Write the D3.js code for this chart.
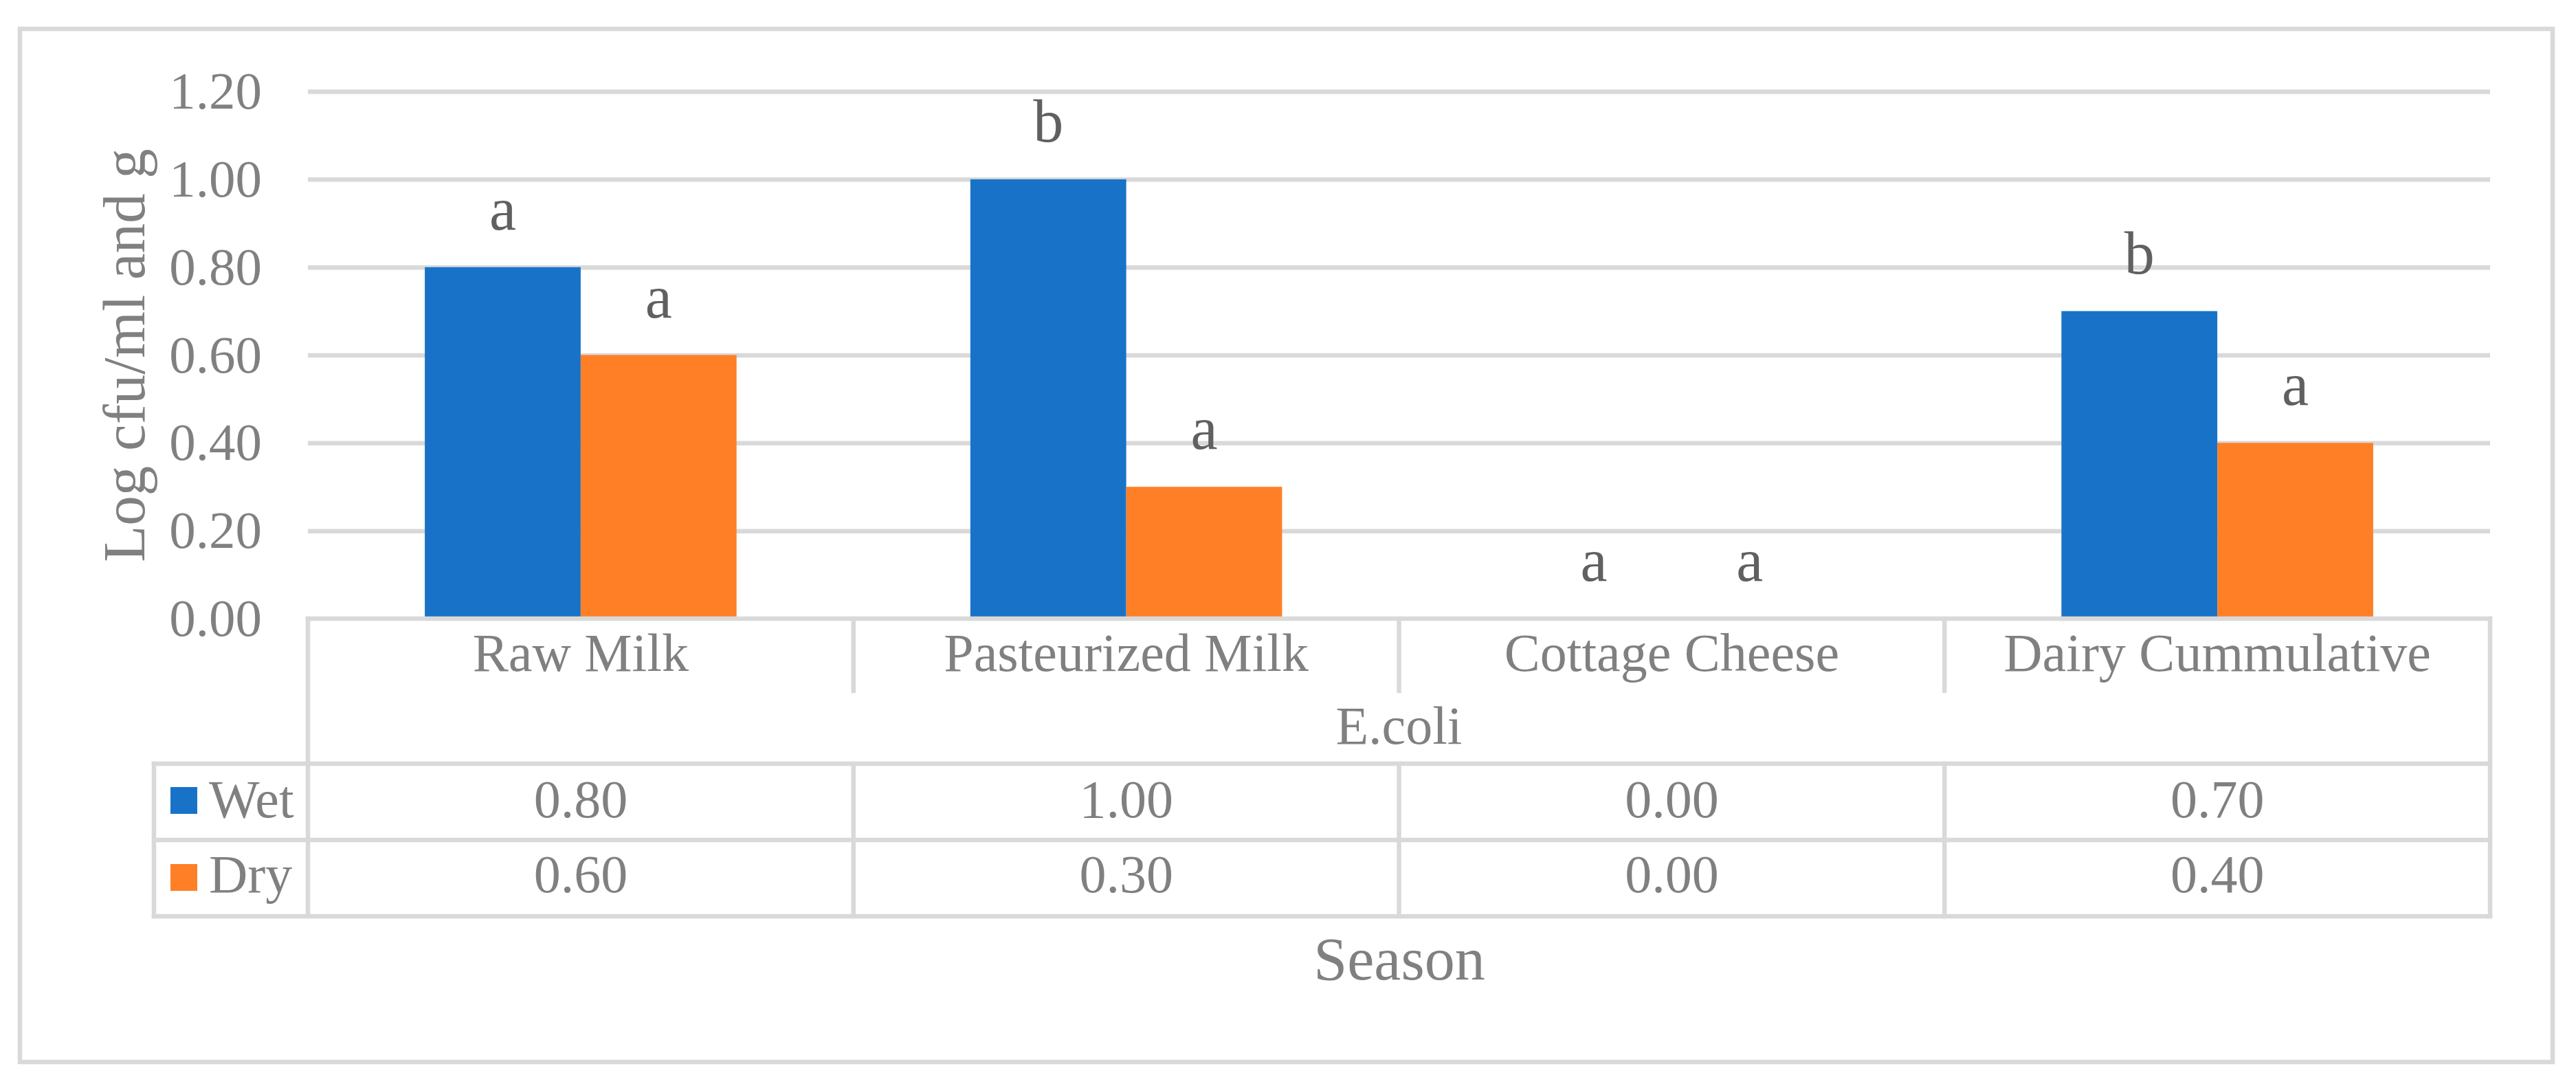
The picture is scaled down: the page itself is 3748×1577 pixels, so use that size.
<!DOCTYPE html>
<html>
<head>
<meta charset="utf-8">
<script src="https://cdn.jsdelivr.net/npm/d3@7"></script>
<style>
  body { margin: 0; background: #fff; }
  svg text { font-family: "Liberation Serif", "DejaVu Serif", "Times New Roman", Times, serif !important; }
</style>
</head>
<body>
<div id="chart"></div>
<script>
const categories = ["Raw Milk", "Pasteurized Milk", "Cottage Cheese", "Dairy Cummulative"];
const seriesNames = ["Wet", "Dry"];
const wetValues = [0.80, 1.00, 0.00, 0.70];
const dryValues = [0.60, 0.30, 0.00, 0.40];
const wetLetters = ["a", "b", "a", "b"];
const dryLetters = ["a", "a", "a", "a"];
const yTicks = [0, 0.2, 0.4, 0.6, 0.8, 1.0, 1.2];

const W = 3748, H = 1577;
const colors = { Wet: "#1873C8", Dry: "#FF7F27" };
const lineColor = "#d9d9d9";
const lw = 6.5;
const serif = "'Liberation Serif', 'DejaVu Serif', serif";

const svg = d3.select("#chart")
  .append("svg")
  .attr("width", W)
  .attr("height", H)
  .attr("font-family", serif);

// outer chart border
svg.append("rect")
  .attr("x", 29).attr("y", 42)
  .attr("width", 3714 - 29).attr("height", 1545 - 42)
  .attr("fill", "#fff")
  .attr("stroke", lineColor)
  .attr("stroke-width", lw);

const plot = { left: 448, right: 3623, top: 133, bottom: 900 };

const x = d3.scaleBand()
  .domain(categories)
  .range([plot.left, plot.right]);

const xSub = d3.scaleBand()
  .domain(seriesNames)
  .range([0, x.bandwidth()])
  .paddingInner(0)
  .paddingOuter(0.75);

const y = d3.scaleLinear()
  .domain([0, 1.2])
  .range([plot.bottom, plot.top]);

// y axis with gridlines
const yAxis = svg.append("g")
  .attr("transform", `translate(${plot.left},0)`)
  .call(d3.axisLeft(y)
    .tickValues(yTicks)
    .tickSize(-(plot.right - plot.left))
    .tickPadding(67)
    .tickFormat(d3.format(".2f")));

yAxis.attr("font-family", serif);
yAxis.select(".domain").remove();
yAxis.selectAll(".tick line")
  .attr("stroke", lineColor)
  .attr("stroke-width", lw)
  .filter(d => d === 0).remove();
yAxis.selectAll(".tick text")
  .attr("fill", "#808080")
  .attr("font-size", 77);

// bars
const rows = categories.map((c, i) => ({
  cat: c,
  vals: [
    { s: "Wet", v: wetValues[i], l: wetLetters[i] },
    { s: "Dry", v: dryValues[i], l: dryLetters[i] }
  ]
}));

const groups = svg.selectAll("g.cat")
  .data(rows)
  .enter()
  .append("g")
  .attr("class", "cat")
  .attr("transform", d => `translate(${x(d.cat)},0)`);

groups.selectAll("rect")
  .data(d => d.vals)
  .enter()
  .append("rect")
  .attr("x", d => xSub(d.s))
  .attr("y", d => y(d.v))
  .attr("width", xSub.bandwidth())
  .attr("height", d => y(0) - y(d.v))
  .attr("fill", d => colors[d.s]);

// significance letters
groups.selectAll("text.letter")
  .data(d => d.vals)
  .enter()
  .append("text")
  .attr("class", "letter")
  .attr("x", d => xSub(d.s) + xSub.bandwidth() / 2)
  .attr("y", d => y(d.v) - 55)
  .attr("text-anchor", "middle")
  .attr("font-size", 88)
  .attr("fill", "#606060")
  .text(d => d.l);

// data table lines
const tbl = { left: 224, catBottom: 1005, rowTop: 1111, rowMid: 1222, rowBottom: 1333 };
const lines = [
  [plot.left, y(0), plot.right, y(0)],
  [tbl.left, tbl.rowTop, plot.right, tbl.rowTop],
  [tbl.left, tbl.rowMid, plot.right, tbl.rowMid],
  [tbl.left, tbl.rowBottom, plot.right, tbl.rowBottom],
  [plot.left, y(0), plot.left, tbl.rowBottom],
  [plot.right, y(0), plot.right, tbl.rowBottom],
  [tbl.left, tbl.rowTop, tbl.left, tbl.rowBottom]
];
categories.slice(1).forEach(c => {
  lines.push([x(c), y(0), x(c), tbl.catBottom]);
  lines.push([x(c), tbl.rowTop, x(c), tbl.rowBottom]);
});

svg.append("g")
  .selectAll("line")
  .data(lines)
  .enter()
  .append("line")
  .attr("x1", d => d[0]).attr("y1", d => d[1])
  .attr("x2", d => d[2]).attr("y2", d => d[3])
  .attr("stroke", lineColor)
  .attr("stroke-width", lw)
  .attr("stroke-linecap", "square");

// category labels
svg.append("g")
  .selectAll("text")
  .data(categories)
  .enter()
  .append("text")
  .attr("x", d => x(d) + x.bandwidth() / 2)
  .attr("y", 976)
  .attr("text-anchor", "middle")
  .attr("font-size", 78)
  .attr("fill", "#808080")
  .text(d => d);

svg.append("text")
  .attr("x", (plot.left + plot.right) / 2)
  .attr("y", 1082)
  .attr("text-anchor", "middle")
  .attr("font-size", 78)
  .attr("fill", "#808080")
  .text("E.coli");

// table rows
const tableRows = [
  { s: "Wet", vals: wetValues, base: 1189, keyY: 1145 },
  { s: "Dry", vals: dryValues, base: 1298, keyY: 1257 }
];

tableRows.forEach(r => {
  svg.append("rect")
    .attr("x", 248).attr("y", r.keyY)
    .attr("width", 39).attr("height", 39)
    .attr("fill", colors[r.s]);
  svg.append("text")
    .attr("x", 304).attr("y", r.base)
    .attr("font-size", 78)
    .attr("fill", "#808080")
    .text(r.s);
  svg.append("g")
    .selectAll("text")
    .data(r.vals)
    .enter()
    .append("text")
    .attr("x", (d, i) => x(categories[i]) + x.bandwidth() / 2)
    .attr("y", r.base)
    .attr("text-anchor", "middle")
    .attr("font-size", 78)
    .attr("fill", "#808080")
    .text(d => d3.format(".2f")(d));
});

// axis titles
svg.append("text")
  .attr("x", 2036)
  .attr("y", 1425)
  .attr("text-anchor", "middle")
  .attr("font-size", 88)
  .attr("fill", "#808080")
  .text("Season");

svg.append("text")
  .attr("transform", "translate(210,517) rotate(-90)")
  .attr("text-anchor", "middle")
  .attr("font-size", 87)
  .attr("fill", "#808080")
  .text("Log cfu/ml and g");
</script>
</body>
</html>
